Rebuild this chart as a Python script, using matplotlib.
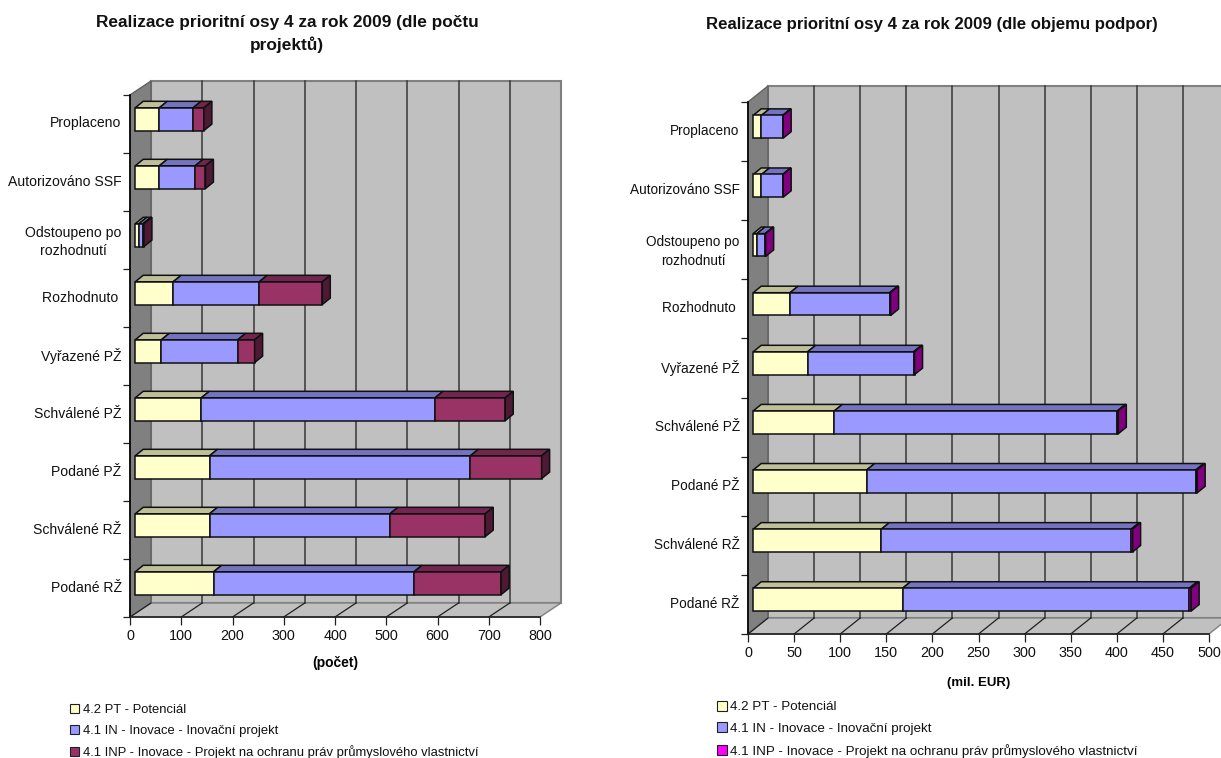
import matplotlib
matplotlib.use('Agg')
import matplotlib.pyplot as plt
from matplotlib.patches import Polygon, Patch

W, H = 1221, 758
plt.rcParams['font.family'] = ['Liberation Sans', 'DejaVu Sans']

categories = ['Proplaceno', 'Autorizováno SSF', 'Odstoupeno po\nrozhodnutí', 'Rozhodnuto ', 'Vyřazené PŽ',
              'Schválené PŽ', 'Podané PŽ', 'Schválené RŽ', 'Podané RŽ']
series_names = ['4.2 PT - Potenciál', '4.1 IN - Inovace - Inovační projekt',
                '4.1 INP - Inovace - Projekt na ochranu práv průmyslového vlastnictví']

# left chart, number of projects
pt_count = [47, 47, 7, 74, 51, 129, 145, 145, 153]
in_count = [66, 70, 8, 168, 149, 456, 509, 352, 391]
inp_count = [21, 20, 2, 123, 33, 137, 139, 186, 170]
ticks_count = [0, 100, 200, 300, 400, 500, 600, 700, 800]

# right chart, mil. EUR
pt_eur = [9, 9, 4, 40, 59, 88, 123, 139, 162]
in_eur = [23, 23, 9, 108, 115, 307, 357, 271, 311]
inp_eur = [0.5, 0.5, 0.5, 1, 1, 1, 1.5, 1.5, 2]
ticks_eur = [0, 50, 100, 150, 200, 250, 300, 350, 400, 450, 500]

colors_left = [('#FFFFCC', '#BFBF99', '#808066'), ('#9999FF', '#7373BF', '#4D4D80'), ('#993366', '#73264D', '#4D1933')]
colors_right = [('#FFFFCC', '#BFBF99', '#808066'), ('#9999FF', '#7373BF', '#4D4D80'), ('#FF00FF', '#BF00BF', '#800080')]


def chart(box, series, ticks, colors, title, title_xy, title_size, xlabel, xlabel_size, xlabel_pad, legend_xy,
          legend_size, depth, label_size):
    left, top, right, bottom = box
    ax = plt.gcf().add_axes([left / W, 1 - bottom / H, (right - left) / W, (bottom - top) / H])
    xmax = ticks[-1]
    n = len(categories)
    ax.set_xlim(0, xmax)
    ax.set_ylim(n - 0.5, -0.5)
    ax.patch.set_visible(False)
    for s in ax.spines.values():
        s.set_visible(False)

    ux = xmax / (right - left)
    uy = n / (bottom - top)
    dx, dy = depth[0] * ux, depth[1] * uy   # wall depth, in data units
    y0, y1 = -0.5, n - 0.5

    # walls and floor
    ax.add_patch(Polygon([(dx, y0 - dy), (xmax + dx, y0 - dy), (xmax + dx, y1 - dy), (dx, y1 - dy)],
                         fc='#C0C0C0', ec='#808080', lw=1.5, clip_on=False, zorder=1))
    ax.add_patch(Polygon([(0, y0), (dx, y0 - dy), (dx, y1 - dy), (0, y1)],
                         fc='#808080', ec='#606060', lw=1, clip_on=False, zorder=1))
    ax.add_patch(Polygon([(0, y1), (xmax, y1), (xmax + dx, y1 - dy), (dx, y1 - dy)],
                         fc='#C0C0C0', ec='#808080', lw=1, clip_on=False, zorder=1))
    for t in ticks[1:-1]:
        ax.plot([t + dx, t + dx], [y0 - dy, y1 - dy], color='#383838', lw=1.1, clip_on=False, zorder=2)
    for t in ticks[:-1]:
        ax.plot([t, t + dx], [y1, y1 - dy], color='#202020', lw=0.9, clip_on=False, zorder=2)
    ax.plot([0, 0], [y0, y1], color='black', lw=1.2, clip_on=False, zorder=2)
    ax.plot([0, xmax], [y1, y1], color='#202020', lw=1.2, clip_on=False, zorder=2)

    # bars, 3d look
    ox, oy = 5.2 * ux, 4.8 * uy
    bx, by = 8 * ux, 6.5 * uy
    half = 11.4 * uy
    for i in range(n):
        start = 0
        yc = i - oy
        for j, vals in enumerate(series):
            end = start + vals[i]
            front, top_c, side = colors[j]
            ax.add_patch(Polygon([(start + ox, yc - half), (end + ox, yc - half), (end + ox + bx, yc - half - by),
                                  (start + ox + bx, yc - half - by)], fc=top_c, ec='#101010', lw=1.1, zorder=3,
                                 clip_on=False))
            ax.add_patch(Polygon([(start + ox, yc - half), (end + ox, yc - half), (end + ox, yc + half),
                                  (start + ox, yc + half)], fc=front, ec='#101010', lw=1.1, zorder=4, clip_on=False))
            start = end
        ax.add_patch(Polygon([(start + ox, yc - half), (start + ox + bx, yc - half - by),
                              (start + ox + bx, yc + half - by), (start + ox, yc + half)],
                             fc=colors[2][2], ec='#101010', lw=1.1, zorder=4, clip_on=False))

    ax.set_xticks(ticks)
    ax.set_xticklabels([str(t) for t in ticks], fontsize=10.4, color='#111111')
    ax.tick_params(axis='x', length=5.8, width=0.9, pad=2.5, color='#202020')
    ax.set_yticks([k - 0.5 for k in range(n + 1)])
    ax.set_yticklabels([])
    ax.tick_params(axis='y', which='major', length=5, width=0.9, color='#202020')
    ax.set_yticks([i - 2 * uy for i in range(n)], minor=True)
    ax.set_yticklabels(categories, minor=True, fontsize=label_size, ha='right', multialignment='center',
                       color='#111111', linespacing=1.4)
    ax.tick_params(axis='y', which='minor', length=0, pad=6)
    ax.set_xlabel(xlabel, fontsize=xlabel_size, fontweight='bold', labelpad=xlabel_pad)

    plt.gcf().text(title_xy[0] / W, 1 - title_xy[1] / H, title, ha='center', va='center', fontsize=title_size,
                   fontweight='bold', linespacing=1.45, color='#111111')
    handles = [Patch(fc=colors[j][0], ec='#202020', lw=0.8) for j in range(3)]
    plt.gcf().legend(handles, series_names, loc='upper left', bbox_to_anchor=(legend_xy[0] / W, 1 - legend_xy[1] / H),
                     frameon=False, fontsize=legend_size, handlelength=0.72, handleheight=0.72, handletextpad=0.25,
                     labelspacing=0.66, borderpad=0, borderaxespad=0, labelcolor='#111111')
    return ax


fig = plt.figure(figsize=(W / 100, H / 100), dpi=100)
chart((130, 95, 540, 617), [pt_count, in_count, inp_count], ticks_count, colors_left,
      'Realizace prioritní osy 4 za rok 2009 (dle počtu\nprojektů)', (287, 34), 12.4,
      '(počet)', 10, 10, (70, 704), 9.35, (21, 14), 10.1)
chart((748, 102, 1209, 634), [pt_eur, in_eur, inp_eur], ticks_eur, colors_right,
      'Realizace prioritní osy 4 za rok 2009 (dle objemu podpor)', (932, 24), 12.1,
      '(mil. EUR)', 9.5, 12.5, (717, 701), 9.65, (20, 16), 9.8)

fig.savefig('out.png', dpi=100)
